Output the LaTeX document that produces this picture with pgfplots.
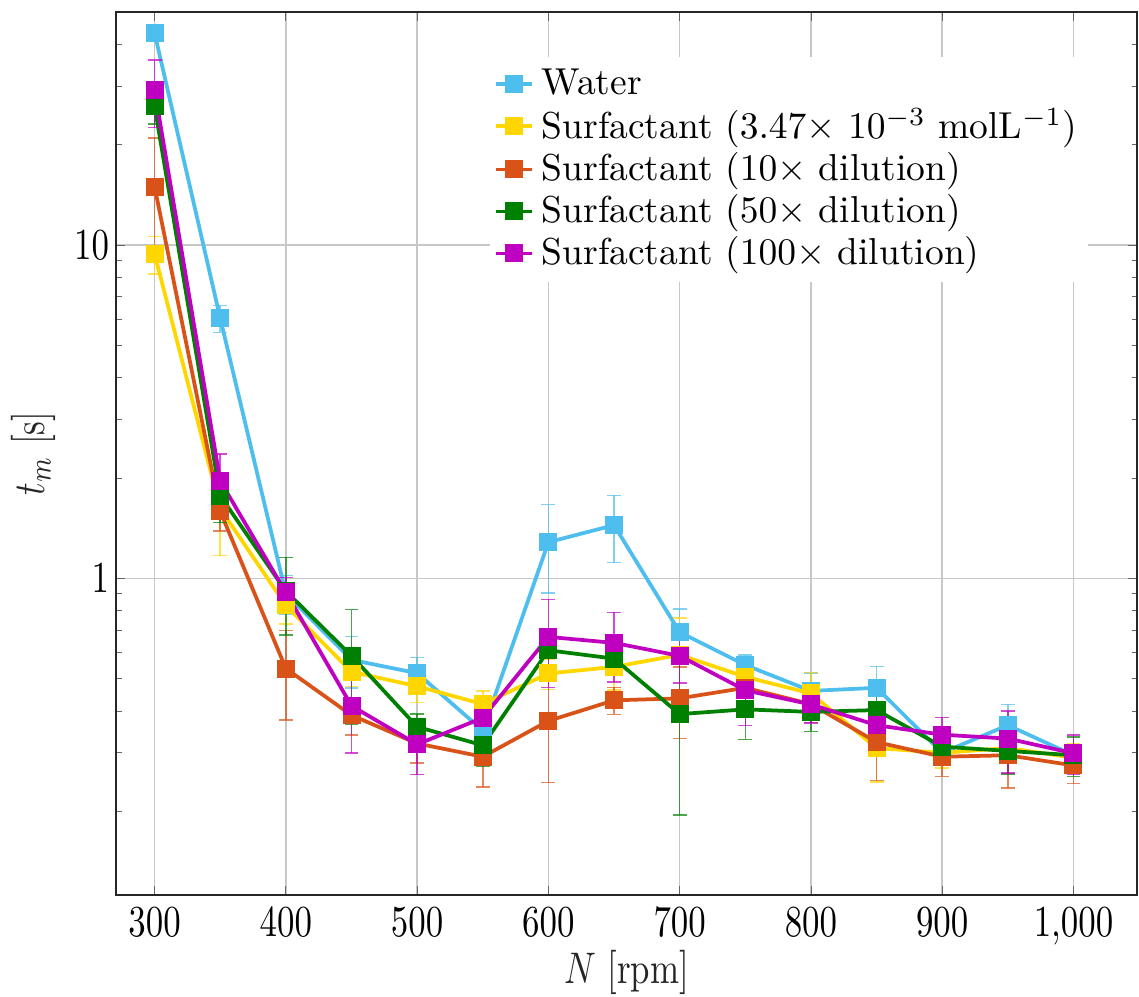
\documentclass[border=0pt]{standalone}
\usepackage{graphicx}
\usepackage{pgfplots}
\pgfplotsset{compat=1.18}

\definecolor{cwater}{RGB}{77,190,238}
\definecolor{csurf}{RGB}{255,214,0}
\definecolor{cten}{RGB}{217,83,25}
\definecolor{cfifty}{RGB}{0,128,0}
\definecolor{chundred}{RGB}{192,0,192}

% tall, narrow lettering for ticks and axis labels
\newcommand{\tl}[1]{\scalebox{0.93}[1.18]{#1}}

% N [rpm], t_m [s], error
\pgfplotstableread{
N t e
300 43.2 1.0
350 6.03 0.56
400 0.90 0.12
450 0.57 0.10
500 0.52 0.06
550 0.35 0.02
600 1.285 0.38
650 1.445 0.33
700 0.69 0.12
750 0.55 0.04
800 0.46 0.06
850 0.47 0.075
900 0.30 0.02
950 0.363 0.056
1000 0.295 0.02
}\water

\pgfplotstableread{
N t e
300 9.4 1.2
350 1.62 0.45
400 0.83 0.10
450 0.525 0.05
500 0.475 0.05
550 0.42 0.04
600 0.519 0.055
650 0.543 0.08
700 0.59 0.17
750 0.507 0.07
800 0.452 0.07
850 0.31 0.065
900 0.30 0.03
950 0.31 0.05
1000 0.29 0.03
}\surf

\pgfplotstableread{
N t e
300 14.96 6.0
350 1.59 0.2
400 0.537 0.16
450 0.389 0.05
500 0.32 0.04
550 0.292 0.055
600 0.374 0.13
650 0.431 0.04
700 0.437 0.106
750 0.47 0.07
800 0.42 0.05
850 0.323 0.075
900 0.292 0.037
950 0.295 0.06
1000 0.275 0.032
}\ten

\pgfplotstableread{
N t e
300 26.1 3.0
350 1.77 0.3
400 0.916 0.24
450 0.586 0.22
500 0.359 0.033
550 0.316 0.042
600 0.609 0.06
650 0.575 0.05
700 0.392 0.197
750 0.405 0.076
800 0.398 0.05
850 0.403 0.04
900 0.313 0.03
950 0.304 0.045
1000 0.295 0.04
}\fifty

\pgfplotstableread{
N t e
300 29.2 6.7
350 1.96 0.4
400 0.908 0.10
450 0.415 0.115
500 0.318 0.06
550 0.382 0.04
600 0.668 0.197
650 0.641 0.151
700 0.586 0.10
750 0.462 0.10
800 0.419 0.05
850 0.363 0.05
900 0.340 0.043
950 0.331 0.07
1000 0.299 0.04
}\hundred

\begin{document}
\begin{tikzpicture}
\begin{axis}[
  scale only axis,
  width=272.3pt, height=235.5pt,
  xmin=270.5, xmax=1048.5,
  ymode=log, ymin=0.1122, ymax=50,
  xtick={300,400,...,1000},
  xticklabel={\tl{$\pgfmathprintnumber{\tick}$}},
  yticklabel={\tl{$\pgfmathparse{round(exp(\tick))}\pgfmathprintnumber{\pgfmathresult}$}},
  yticklabel style={xshift=1.7pt},
  grid=major,
  major grid style={black!22, line width=0.4pt},
  axis line style={black!85, line width=0.4pt},
  major tick length=2.4pt,
  minor tick length=1.5pt,
  tick style={black!60},
  xlabel={\tl{$N$ [rpm]}},
  ylabel={\tl{$t_m$ [s]}},
  xlabel style={at={(axis description cs:0.5,0)}, anchor=base, yshift=-23.6pt, text=black!85},
  ylabel style={at={(axis description cs:0,0.5)}, anchor=center, yshift=22.1pt, text=black!85},
  legend style={at={(0.366,0.9495)}, anchor=north west, draw=none, fill=white,
    inner sep=1pt, row sep=-1.8pt},
  legend cell align=left,
  legend image code/.code={
    \draw[mark repeat=2, mark phase=2] plot coordinates {(0cm,0cm) (0.17cm,0cm) (0.34cm,0cm)};
  },
  every axis plot/.append style={line width=1pt, mark=square*, mark size=1.9pt},
  error bars/y dir=both,
  error bars/y explicit,
  error bars/error bar style={line width=0.4pt, opacity=0.7},
  error bars/error mark options={rotate=90, mark size=1.85pt, line width=0.4pt, opacity=0.7},
]
\addplot[color=cwater] table[x=N, y=t, y error=e] {\water};
\addlegendentry{Water}
\addplot[color=csurf] table[x=N, y=t, y error=e] {\surf};
\addlegendentry{Surfactant ($3.47\times$ $10^{-3}$ molL$^{-1}$)}
\addplot[color=cten] table[x=N, y=t, y error=e] {\ten};
\addlegendentry{Surfactant ($10\times$ dilution)}
\addplot[color=cfifty] table[x=N, y=t, y error=e] {\fifty};
\addlegendentry{Surfactant ($50\times$ dilution)}
\addplot[color=chundred] table[x=N, y=t, y error=e] {\hundred};
\addlegendentry{Surfactant ($100\times$ dilution)}
\end{axis}
\pgfresetboundingbox
\useasboundingbox ([xshift=-30.9pt, yshift=-26.9pt]current axis.south west)
  rectangle ([xshift=0.5pt, yshift=3.2pt]current axis.north east);
\end{tikzpicture}
\end{document}
